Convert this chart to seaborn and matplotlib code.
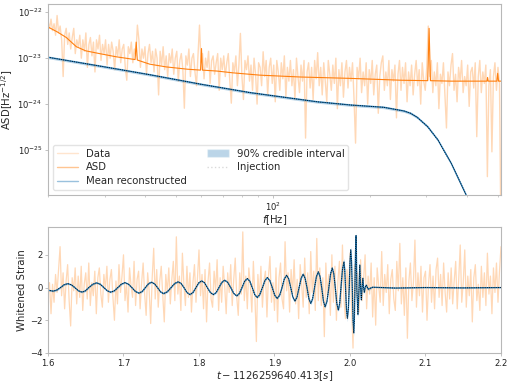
import numpy as np
import matplotlib
matplotlib.use("Agg")
import matplotlib.pyplot as plt
import seaborn as sns
from matplotlib.lines import Line2D
from matplotlib.patches import Patch
from matplotlib.ticker import NullFormatter, NullLocator

# ---- frequency domain (top panel), values read as log10 ----
asd_freq = [20, 21.4, 22.8, 24.5, 26.2, 28.9, 32.6, 37.3, 37.6, 37.9,
            41.4, 46.6, 54.2, 59.6, 60.0, 60.4, 66.9, 75.3, 91.3, 121.7,
            174.3, 250, 303, 306, 309, 358, 463, 465, 467, 497,
            500, 503, 512]
asd_log = [-22.32, -22.43, -22.55, -22.75, -22.84, -22.90, -22.97, -23.03, -22.65, -23.04,
           -23.13, -23.19, -23.24, -23.26, -22.79, -23.26, -23.28, -23.32, -23.37, -23.41,
           -23.44, -23.48, -23.49, -22.35, -23.49, -23.5, -23.5, -23.42, -23.5, -23.5,
           -23.33, -23.5, -23.5]

mean_freq = [20, 30, 41.4, 60, 84.9, 108, 137.3, 174.3, 221.3, 255.5,
             268, 281.3, 302.7, 325.9, 358.5, 399, 450, 512]
mean_log = [-22.98, -23.19, -23.36, -23.57, -23.75, -23.85, -23.95, -24.02, -24.07, -24.15,
            -24.2, -24.29, -24.49, -24.78, -25.29, -25.98, -26.9, -27.8]
mean_ci_log = 0.03

# data |h(f)| on a log-spaced grid from 20 to 512 Hz
data_log = [
    -22.2, -22.35, -22.15, -22.4, -22.25, -22.5, -22.07, -22.45, -22.3, -22.6,
    -23.4, -22.5, -22.35, -22.7, -22.45, -22.8, -22.55, -22.35, -22.9, -22.6,
    -22.75, -22.5, -23.0, -22.6, -22.85, -22.45, -23.2, -22.7, -22.55, -22.95,
    -22.65, -23.3, -22.6, -22.8, -22.5, -23.05, -22.7, -22.9, -22.6, -23.15,
    -22.7, -23.0, -22.65, -22.85, -23.25, -22.75, -22.95, -22.6, -23.1, -22.8,
    -22.7, -23.2, -23.48, -22.75, -22.9, -22.65, -23.1, -22.8, -22.95, -22.28,
    -22.6, -23.2, -22.8, -23.0, -22.75, -23.35, -22.9, -22.7, -23.1, -22.85,
    -23.3, -22.8, -23.0, -23.8, -22.85, -23.15, -22.75, -23.25, -22.95, -23.4,
    -22.9, -23.1, -22.8, -23.35, -23.0, -22.85, -23.5, -23.05, -22.9, -23.25,
    -24.09, -22.95, -23.15, -22.8, -23.4, -23.0, -22.9, -23.3, -23.6, -22.95,
    -22.28, -23.1, -22.9, -23.45, -23.0, -23.2, -22.85, -23.55, -23.05, -22.95,
    -23.35, -23.1, -22.9, -23.7, -23.0, -23.25, -22.95, -23.4, -23.1, -22.9,
    -23.5, -23.98, -23.1, -23.3, -22.95, -23.6, -23.15, -22.46, -23.4, -23.9,
    -23.05, -23.25, -22.95, -23.5, -23.15, -23.7, -23.0, -23.35, -24.0, -23.1,
    -23.2, -23.6, -22.86, -23.4, -23.05, -23.8, -23.2, -23.0, -23.55, -23.15,
    -23.95, -23.05, -23.3, -23.7, -23.1, -23.45, -22.95, -23.85, -23.2, -23.5,
    -23.05, -23.6, -23.25, -23.9, -23.0, -23.4, -23.75, -23.15, -23.5, -23.05,
    -24.74, -23.3, -23.1, -23.65, -23.2, -23.9, -23.05, -23.45, -22.88, -23.6,
    -23.2, -23.8, -23.1, -23.5, -23.95, -23.05, -23.35, -23.7, -23.15, -23.55,
    -23.0, -24.1, -23.25, -23.6, -23.1, -23.85, -23.3, -23.05, -23.65, -23.2,
    -23.5, -23.1, -23.9, -24.85, -23.2, -23.45, -23.0, -23.75, -23.3, -23.6,
    -23.1, -24.0, -23.25, -23.55, -23.05, -23.8, -23.35, -23.15, -24.2, -23.4,
    -23.1, -22.95, -23.7, -23.3, -23.6, -23.05, -23.9, -23.25, -23.5, -23.15,
    -24.3, -23.35, -23.05, -23.7, -23.2, -23.55, -23.1, -23.95, -23.3, -23.6,
    -23.15, -23.8, -23.35, -23.05, -23.6, -23.25, -24.0, -23.1, -23.5, -23.7,
    -23.2, -22.3, -23.4, -23.05, -23.75, -23.3, -23.6, -23.1, -24.1, -23.35,
    -23.55, -23.1, -23.8, -24.52, -23.3, -23.6, -23.15, -22.9, -23.7, -23.35,
    -23.95, -23.2, -23.5, -23.05, -23.75, -23.4, -23.6, -23.15, -24.05, -23.3,
    -23.2, -23.65, -23.1, -24.71, -23.4, -23.05, -23.75, -23.3, -23.55, -23.15,
    -25.58, -23.6, -23.25, -25.04, -23.4, -23.1, -23.7, -23.2, -23.55, -27.0,
]

# ---- time domain (bottom panel) ----
noise_vals = [
    -0.4, 0.3, -1.6, 0.2, -0.9, 0.8, -0.3, 1.1, 2.5, -0.5, 0.9, -1.3, 0.4, 1.4, -0.8, -2.35, 0.6, -0.2, 1.2, -1.0,
    0.7, -0.6, 1.3, -1.4, 0.2, 0.9, -0.7, 1.5, -1.1, 0.3, -0.5, 1.0, -1.6, 0.6, 1.2, -0.4, -1.2, 0.8, -0.1, 1.3,
    -0.9, 0.5, 1.1, -0.6, -2.0, 0.4, -1.0, 1.4, -0.3, 0.7, 2.0, -0.8, 0.2, -1.5, 1.2, 0.1, -0.6, 1.6, -1.1, 0.5,
    1.0, -1.3, 0.3, 1.5, -0.4, -1.7, 0.9, -0.2, -2.2, 0.6, 2.4, -0.7, 1.1, -1.2, 0.4, 1.3, -0.5, -2.1, 0.8, -0.3,
    1.2, -1.0, 0.5, 1.6, -0.8, 3.1, -0.4, 0.7, -1.4, 2.1, 0.2, -1.1, 1.3, -0.6, 0.9, -1.5, 0.3, 1.4, -0.9, 0.6,
    2.3, -0.5, 0.8, -1.3, 1.1, -2.1, 0.4, 1.5, -0.7, -1.2, 1.0, -0.2, 1.7, -1.4, 0.6, -0.9, 1.3, 0.1, -1.6, 0.9,
    -0.3, 1.4, -1.1, 0.5, 1.8, -0.6, -1.7, 0.9, -0.4, 3.4, -0.8, 0.7, -1.3, 1.2, 0.2, -1.5, 1.6, -0.5, -3.3, 0.8,
    -0.6, 1.3, -1.2, 0.4, 1.0, -1.8, 0.7, 1.9, -0.9, 0.3, -1.4, 1.2, -2.1, 0.6, 1.5, -0.7, -1.3, 2.8, -0.2, 0.9,
    -1.5, 1.1, -0.4, 1.7, -1.0, 0.5, -1.9, 1.4, 0.2, -1.2, 1.8, -0.6, 0.9, -1.6, 2.2, -0.3, 1.0, -1.4, 3.0, -0.8,
    1.2, -1.1, 0.6, -3.0, 1.5, -0.5, 0.8, -1.7, 2.0, -0.9, 1.3, -2.0, 0.4, 1.6, -1.2, 2.6, -0.7, -1.9, 1.1, -0.4,
    2.1, -1.0, -3.7, 1.4, -0.6, 0.9, -1.5, 1.7, -0.8, 0.5, 2.0, -1.3, 0.7, -0.4, 1.5, -1.8, 0.6, -2.3, 1.2, 0.1,
    -0.9, 2.2, -1.1, 0.8, -0.3, 1.4, -1.6, 0.5, 1.1, -0.7, -1.4, 1.6, -0.2, 2.7, -1.0, 0.6, -1.7, 1.2, -3.1, 0.4,
    1.5, -0.8, 0.3, 2.9, -1.2, 0.9, -0.5, 1.3, -1.5, 0.6, 1.0, -2.0, 0.2, 1.4, -0.9, 0.7, -1.3, 1.1, 1.8, -0.6,
    0.8, -1.1, 1.5, -0.3, -1.5, 0.9, -0.7, 1.2, -1.0, 0.4, 1.6, -1.3, 0.5, 2.6, -0.9, 0.3, 2.3, -1.2, 0.7, -0.5,
    1.1, -2.1, 0.6, 1.4, -0.8, 0.2, -1.4, 1.3, -0.6, 0.9, -1.1, 2.1, -0.4, 0.7, -1.6, 1.2, -0.3, 1.5, -0.9, 1.0,
    2.5,
]

# reconstructed waveform (peaks, troughs, crossings, shoulders)
wave_t = [1.600, 1.607, 1.6118, 1.6165, 1.6213, 1.626, 1.6308, 1.6355, 1.6403, 1.645,
          1.6495, 1.654, 1.6593, 1.6645, 1.6693, 1.674, 1.6785, 1.683, 1.6878, 1.6925,
          1.6973, 1.702, 1.7065, 1.711, 1.7158, 1.7205, 1.7248, 1.729, 1.733, 1.737,
          1.741, 1.745, 1.749, 1.753, 1.758, 1.763, 1.7678, 1.7725, 1.7763, 1.780,
          1.784, 1.788, 1.792, 1.796, 1.7998, 1.8035, 1.8073, 1.811, 1.815, 1.819,
          1.8228, 1.8265, 1.8303, 1.834, 1.838, 1.842, 1.846, 1.850, 1.8535, 1.857,
          1.8605, 1.864, 1.8673, 1.8705, 1.8738, 1.877, 1.8805, 1.884, 1.8873, 1.8905,
          1.8938, 1.897, 1.9003, 1.9035, 1.9068, 1.910, 1.913, 1.916, 1.9188, 1.9215,
          1.9243, 1.927, 1.9298, 1.9325, 1.9353, 1.938, 1.9405, 1.943, 1.9455, 1.948,
          1.9505, 1.953, 1.9555, 1.958, 1.9603, 1.9625, 1.9648, 1.967, 1.9695, 1.972,
          1.9743, 1.9765, 1.9785, 1.9805, 1.9825, 1.9845, 1.9863, 1.988, 1.990, 1.992,
          1.993, 1.994, 1.9953, 1.9965, 1.9978, 1.999, 2.000, 2.001, 2.002, 2.003,
          2.004, 2.005, 2.0058, 2.0065, 2.0073, 2.008, 2.0085, 2.009, 2.0105, 2.012,
          2.013, 2.014, 2.015, 2.016, 2.017, 2.018, 2.019, 2.020, 2.0215, 2.023,
          2.024, 2.03, 2.06, 2.10, 2.15, 2.20]
wave_h = [-0.16, -0.22, -0.15, 0, 0.17, 0.24, 0.17, 0, -0.2, -0.28,
          -0.2, 0, 0.2, 0.29, 0.2, 0, -0.2, -0.28, -0.2, 0,
          0.21, 0.30, 0.21, 0, -0.24, -0.34, -0.24, 0, 0.23, 0.33,
          0.23, 0, -0.26, -0.37, -0.26, 0, 0.25, 0.35, 0.25, 0,
          -0.3, -0.43, -0.3, 0, 0.29, 0.41, 0.29, 0, -0.3, -0.43,
          -0.3, 0, 0.32, 0.45, 0.32, 0, -0.36, -0.51, -0.36, 0,
          0.39, 0.55, 0.39, 0, -0.43, -0.61, -0.43, 0, 0.43, 0.61,
          0.43, 0, -0.47, -0.67, -0.47, 0, 0.53, 0.75, 0.53, 0,
          -0.58, -0.83, -0.58, 0, 0.57, 0.82, 0.57, 0, -0.68, -0.97,
          -0.68, 0, 0.67, 0.96, 0.67, 0, -0.83, -1.18, -0.83, 0,
          0.84, 1.20, 0.84, 0, -0.97, -1.38, -0.97, 0, 1.1, 1.57,
          1.1, 0, -1.31, -1.87, -1.31, 0, 1.61, 2.30, 1.61, 0,
          -1.95, -2.78, -1.95, 0, 2.2, 3.17, 2.2, 0, -1.66, 0,
          1.38, 0, -0.75, 0, 0.57, 0, -0.30, 0, 0.15, 0,
          -0.10, 0.02, -0.03, 0.0, -0.02, 0.0]
# 90% band half-width per time range
ci_edges = [1.93, 1.985, 2.012, 2.025]
ci_levels = [0.05, 0.08, 0.22, 0.1, 0.03]

DATA_COLOR = "#ff7f0e"
WAVEFORM_COLOR = "#1f77b4"
INJECTION_COLOR = "#000000"
SPINE = "#b8b8b8"
LABEL_FS = 7.3
TICK_FS = 6.1

sns.set_theme(style="ticks")
plt.rcParams["font.family"] = ["DejaVu Sans"]
plt.rcParams["mathtext.fontset"] = "dejavusans"

fig = plt.figure(figsize=(5.12, 3.85), dpi=100)
W, H = 512, 385
ax1 = fig.add_axes([48 / W, (H - 195) / H, 453 / W, 191 / H])
ax2 = fig.add_axes([48 / W, (H - 353) / H, 453 / W, 126 / H])

# top panel
ax1.set_xscale("log")
ax1.set_yscale("log")
data_freq = np.geomspace(20, 512, len(data_log))
sns.lineplot(x=data_freq, y=10 ** np.array(data_log), ax=ax1, color=DATA_COLOR,
             alpha=0.3, lw=1.0, estimator=None, sort=False, legend=False)
sns.lineplot(x=asd_freq, y=10 ** np.array(asd_log), ax=ax1, color=DATA_COLOR,
             lw=0.8, estimator=None, sort=False, legend=False)
mean_amp = 10 ** np.array(mean_log)
ax1.fill_between(mean_freq, mean_amp * 10 ** -mean_ci_log, mean_amp * 10 ** mean_ci_log,
                 color=WAVEFORM_COLOR, alpha=0.3, lw=0)
sns.lineplot(x=mean_freq, y=mean_amp, ax=ax1, color=WAVEFORM_COLOR,
             lw=0.9, estimator=None, sort=False, legend=False)
sns.lineplot(x=mean_freq, y=mean_amp, ax=ax1, color=INJECTION_COLOR,
             lw=0.6, ls=":", estimator=None, sort=False, legend=False)
ax1.set_xlim(20, 512)
ax1.set_ylim(10 ** -25.98, 10 ** -21.82)
ax1.yaxis.set_minor_locator(NullLocator())
ax1.xaxis.set_minor_formatter(NullFormatter())
ax1.set_xlabel(r"$f$[Hz]", fontsize=LABEL_FS, labelpad=0)
ax1.set_ylabel(r"ASD[Hz$^{-1/2}$]", fontsize=LABEL_FS, labelpad=2)

handles = [
    Line2D([], [], color=DATA_COLOR, alpha=0.2, lw=1),
    Line2D([], [], color=DATA_COLOR, alpha=0.45, lw=1),
    Line2D([], [], color=WAVEFORM_COLOR, alpha=0.45, lw=1),
    Patch(facecolor=WAVEFORM_COLOR, alpha=0.3),
    Line2D([], [], color=INJECTION_COLOR, alpha=0.15, lw=1, ls=":"),
]
labels = ["Data", "ASD", "Mean reconstructed", "90% credible interval", "Injection"]
ax1.legend(handles, labels, loc="lower left", ncol=2, fontsize=LABEL_FS,
           frameon=True, framealpha=0.8, edgecolor="#dddddd",
           handlelength=2.1, handletextpad=0.8, columnspacing=2.0,
           labelspacing=0.37, borderpad=0.38, borderaxespad=0.5)

# bottom panel
noise_t = np.linspace(1.6, 2.2, len(noise_vals))
sns.lineplot(x=noise_t, y=noise_vals, ax=ax2, color=DATA_COLOR, alpha=0.3,
             lw=0.9, estimator=None, sort=False, legend=False)
wave_h_arr = np.array(wave_h)
wave_ci = np.array(ci_levels)[np.searchsorted(ci_edges, wave_t)]
ax2.fill_between(wave_t, wave_h_arr - wave_ci, wave_h_arr + wave_ci,
                 color=WAVEFORM_COLOR, alpha=0.3, lw=0)
sns.lineplot(x=wave_t, y=wave_h, ax=ax2, color=WAVEFORM_COLOR, lw=0.9,
             estimator=None, sort=False, legend=False)
sns.lineplot(x=wave_t, y=wave_h, ax=ax2, color=INJECTION_COLOR, lw=0.6, ls=":",
             estimator=None, sort=False, legend=False)
ax2.set_xlim(1.6, 2.2)
ax2.set_ylim(-4, 3.7)
ax2.set_xticks([1.6, 1.7, 1.8, 1.9, 2.0, 2.1, 2.2])
ax2.set_yticks([-4, -2, 0, 2])
ax2.set_xlabel(r"$t - 1126259640.413 [s]$", fontsize=LABEL_FS, labelpad=1)
ax2.set_ylabel("Whitened Strain", fontsize=LABEL_FS, labelpad=2)

for ax in (ax1, ax2):
    for sp in ax.spines.values():
        sp.set_color(SPINE)
        sp.set_linewidth(0.8)
        sp.set_visible(True)
    ax.tick_params(which="major", length=2.5, width=0.6, color=SPINE,
                   labelsize=TICK_FS, labelcolor="#222222", pad=1.5)
    ax.tick_params(which="minor", length=1.5, width=0.5, color=SPINE)

fig.savefig("out.png", dpi=100)
